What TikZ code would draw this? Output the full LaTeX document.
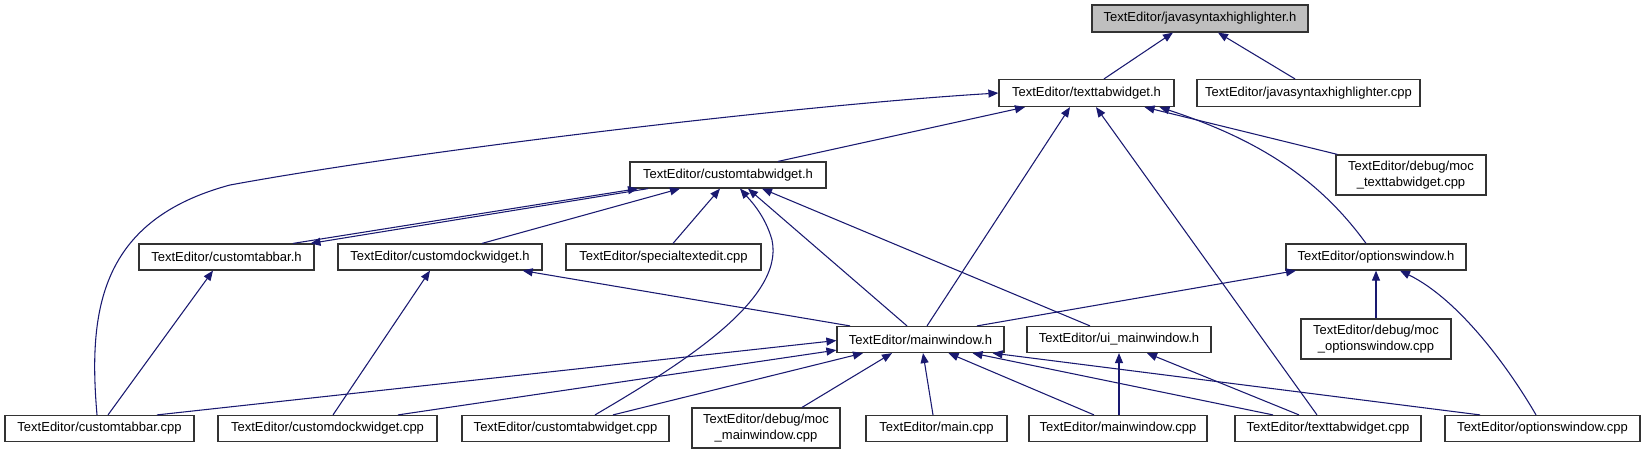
\documentclass[tikz,border=0pt]{standalone}
\usepackage{fontspec}
\setmainfont{Liberation Sans}
\usetikzlibrary{arrows.meta,calc}
\definecolor{edgecol}{RGB}{25,25,112}
\definecolor{boxgray}{RGB}{191,191,191}
\begin{document}
\begin{tikzpicture}[x=0.75pt,y=-0.75pt,
  file/.style={draw=black!80, line width=0.9pt, fill=white, inner sep=0pt,
    minimum height=26*0.75pt, font=\fontsize{9.75}{11.5}\selectfont, align=center},
  bw/.style={minimum width=#1*0.75pt},
  bh/.style={minimum height=#1*0.75pt},
  edge/.style={draw=edgecol, line width=0.8pt, -{Triangle[length=7.5pt,width=6pt]}}]
\useasboundingbox (0,0) rectangle (1645,455);

% row 1
\node[file, bw=216, bh=27, fill=boxgray] (jsh) at (1200,18.5) {TextEditor/javasyntaxhighlighter.h};
% row 2
\node[file, bw=175, bh=27] (ttwh) at (1086.5,93) {TextEditor/texttabwidget.h};
\node[file, bw=223, bh=27] (jshcpp) at (1308.5,93) {TextEditor/javasyntaxhighlighter.cpp};
% row 3
\node[file, bw=196] (ctwh) at (728,175) {TextEditor/customtabwidget.h};
\node[file, bw=150, bh=40] (mocttw) at (1411,175) {TextEditor/debug/moc\\\_texttabwidget.cpp};
% row 4
\node[file, bw=175] (ctbh) at (226.5,257) {TextEditor/customtabbar.h};
\node[file, bw=204] (cdwh) at (440,257) {TextEditor/customdockwidget.h};
\node[file, bw=195] (stecpp) at (663.5,257) {TextEditor/specialtextedit.cpp};
\node[file, bw=180] (owh) at (1376,257) {TextEditor/optionswindow.h};
% row 5
\node[file, bw=167] (mwh) at (920.5,339.5) {TextEditor/mainwindow.h};
\node[file, bw=184] (uimwh) at (1119,339.5) {TextEditor/ui\_mainwindow.h};
\node[file, bw=150, bh=40] (mocow) at (1376,339) {TextEditor/debug/moc\\\_optionswindow.cpp};
% row 6
\node[file, bw=189] (ctbcpp) at (99.5,428.5) {TextEditor/customtabbar.cpp};
\node[file, bw=219] (cdwcpp) at (327.5,428.5) {TextEditor/customdockwidget.cpp};
\node[file, bw=207] (ctwcpp) at (565.5,428.5) {TextEditor/customtabwidget.cpp};
\node[file, bw=148, bh=40] (mocmw) at (766,428) {TextEditor/debug/moc\\\_mainwindow.cpp};
\node[file, bw=141] (maincpp) at (936.5,428.5) {TextEditor/main.cpp};
\node[file, bw=178] (mwcpp) at (1118,428.5) {TextEditor/mainwindow.cpp};
\node[file, bw=186] (ttwcpp) at (1328,428.5) {TextEditor/texttabwidget.cpp};
\node[file, bw=195] (owcpp) at (1542.5,428.5) {TextEditor/optionswindow.cpp};

% edges to javasyntaxhighlighter.h
\draw[edge] ($(ttwh.north)+(17.5,0)$) -- ($(jsh.south)+(-27,0)$);
\draw[edge] ($(jshcpp.north)+(-13.5,0)$) -- ($(jsh.south)+(18,0)$);

% edges to texttabwidget.h
\draw[edge] ($(ctbcpp.north)+(-2.5,0)$) .. controls (88,310) and (100,220) .. (230,185)
   .. controls (420,150) and (800,105) .. (ttwh.west);
\draw[edge] ($(ctwh.north)+(50,0)$) -- ($(ttwh.south)+(-61.5,0)$);
\draw[edge] ($(mocttw.north west)+(2,0)$) -- ($(ttwh.south)+(58,0)$);
\draw[edge] ($(owh.north)+(-10,0)$) .. controls (1320,180) and (1260,140) .. ($(ttwh.south)+(73,0)$);
\draw[edge] ($(mwh.north)+(6.5,0)$) -- ($(ttwh.south)+(-16.5,0)$);
\draw[edge] ($(ttwcpp.north)+(-11,0)$) -- ($(ttwh.south)+(9.5,0)$);

% edges to customtabwidget.h
\draw[edge] ($(ctbh.north)+(66.5,0)$) -- ($(ctwh.south)+(-90,0)$);
\draw[edge] ($(ctwh.south)+(-80,0)$) -- ($(ctbh.north)+(84,0)$);
\draw[edge] ($(cdwh.north)+(42,0)$) -- ($(ctwh.south)+(-48,0)$);
\draw[edge] ($(stecpp.north)+(9.5,0)$) -- ($(ctwh.south)+(-8,0)$);
\draw[edge] ($(ctwcpp.north)+(29.5,0)$) .. controls (680,365) and (785,300) .. (772,240)
   .. controls (765,215) and (750,200) .. ($(ctwh.south)+(12,0)$);
\draw[edge] ($(mwh.north)+(-13.5,0)$) -- ($(ctwh.south)+(20,0)$);
\draw[edge] ($(uimwh.north)+(-29,0)$) -- ($(ctwh.south)+(34,0)$);

% edges from mainwindow.h to headers
\draw[edge] ($(mwh.north)+(-70.5,0)$) -- ($(cdwh.south east)+(-20,0)$);
\draw[edge] ($(mwh.north)+(56.5,0)$) -- ($(owh.south)+(-80,0)$);

% edges to mainwindow.h
\draw[edge] ($(ctbcpp.north)+(57.5,0)$) -- ($(mwh.west)+(0,1)$);
\draw[edge] ($(cdwcpp.north)+(70.5,0)$) -- ($(mwh.south west)+(0,-3)$);
\draw[edge] ($(ctwcpp.north)+(47.5,0)$) -- ($(mwh.south)+(-57.5,0)$);
\draw[edge] ($(mocmw.north)+(36,0)$) -- ($(mwh.south)+(-28.5,0)$);
\draw[edge] ($(maincpp.north)+(-3.5,0)$) -- ($(mwh.south)+(2.5,0)$);
\draw[edge] ($(mwcpp.north)+(-24,0)$) -- ($(mwh.south)+(28,0)$);
\draw[edge] ($(ttwcpp.north)+(-55,0)$) -- ($(mwh.south)+(52,0)$);
\draw[edge] ($(owcpp.north)+(-62.5,0)$) -- ($(mwh.south)+(72,0)$);

% edges to ui_mainwindow.h
\draw[edge] ($(mwcpp.north)+(1,0)$) -- (uimwh.south);
\draw[edge] ($(ttwcpp.north)+(-29,0)$) -- ($(uimwh.south)+(28,0)$);

% edges to optionswindow.h
\draw[edge] (mocow.north) -- (owh.south);
\draw[edge] ($(owcpp.north)+(-6.5,0)$) .. controls (1510,370) and (1460,300) .. ($(owh.south)+(24,0)$);

% edges to customtabbar.h / customdockwidget.h
\draw[edge] ($(ctbcpp.north)+(8.5,0)$) -- ($(ctbh.south)+(-13.5,0)$);
\draw[edge] ($(cdwcpp.north)+(5.5,0)$) -- ($(cdwh.south)+(-10,0)$);
\end{tikzpicture}
\end{document}
